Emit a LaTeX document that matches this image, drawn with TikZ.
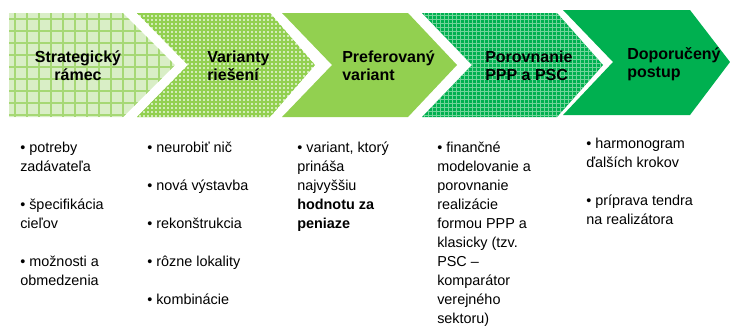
\documentclass[tikz,border=0pt]{standalone}
\usepackage{fontspec}
\setmainfont{Liberation Sans}
\usepackage{xcolor}
\usepackage{tikz}

\definecolor{paleGreen}{HTML}{D9EEC6}
\definecolor{lineGreen}{HTML}{A6D875}
\definecolor{mixGreen}{HTML}{D2ECB8}
\definecolor{limeGreen}{HTML}{92D050}
\definecolor{darkGreen}{HTML}{00B050}
\definecolor{dotGreen}{HTML}{72D49A}

\begin{document}
\begin{tikzpicture}[x=0.75pt,y=-0.75pt,
	head/.style={font=\fontsize{12}{13.5}\selectfont\bfseries, inner sep=0pt, anchor=north west, align=left},
	list/.style={font=\fontsize{10.8}{14.25}\selectfont, inner sep=0pt, anchor=north west, align=left}]
	\useasboundingbox (0,0) rectangle (730,326);
	% step 1 - wide grid
	\begin{scope}
		\clip (9,13) -- (123,13) -- (175,65) -- (123,117) -- (9,117) -- cycle;
		\fill[paleGreen] (0,0) rectangle (180,120);
		\foreach \x in {15,27,...,175}
			\draw[lineGreen, line width=0.9pt] (\x,13) -- (\x,117);
		\foreach \y in {19,31,...,115}
			\draw[lineGreen, line width=0.9pt] (9,\y) -- (175,\y);
	\end{scope}
	% step 2 - fine grid
	\begin{scope}
		\clip (137,13) -- (270,13) -- (315,65) -- (270,117) -- (137,117) -- (188,65) -- cycle;
		\fill[mixGreen] (130,0) rectangle (320,120);
		\foreach \x in {138,142,...,318}
			\draw[limeGreen, line width=1pt] (\x,13) -- (\x,117);
		\foreach \y in {14,18,...,118}
			\draw[limeGreen, line width=1pt] (137,\y) -- (315,\y);
	\end{scope}
	% step 3
	\fill[limeGreen] (282,13) -- (408,13) -- (457,65) -- (408,117) -- (282,117) -- (332,65) -- cycle;
	% step 4 - dotted dark grid
	\begin{scope}
		\clip (422,13) -- (557,13) -- (603,65) -- (557,117) -- (422,117) -- (472,65) -- cycle;
		\fill[darkGreen] (420,0) rectangle (610,120);
		\foreach \x in {424,428,...,604}
			\draw[dotGreen, line width=0.6pt] (\x,13) -- (\x,117);
		\foreach \y in {15,19,...,117}
			\draw[dotGreen, line width=0.6pt] (422,\y) -- (603,\y);
	\end{scope}
	% step 5
	\fill[darkGreen] (563,10) -- (690,10) -- (730,62) -- (690,115) -- (563,115) -- (613,62) -- cycle;

	% headings
	\node[head, anchor=north, align=center] (h1) at (78,50.5) {Strategický\\rámec};
	\node[head] (h2) at (207,50.5) {Varianty\\riešení};
	\node[head] (h3) at (342,50.5) {Preferovaný\\variant};
	\node[head] (h4) at (485,50.5) {Porovnanie\\PPP a PSC};
	\node[head] (h5) at (627,47.5) {Doporučený\\postup};

	% lists
	\node[list] (l1) at (20,141.5) {• potreby\\zadávateľa\\[14.25pt]• špecifikácia\\cieľov\\[14.25pt]• možnosti a\\obmedzenia};
	\node[list] (l2) at (147,141.5) {• neurobiť nič\\[14.25pt]• nová výstavba\\[14.25pt]• rekonštrukcia\\[14.25pt]• rôzne lokality\\[14.25pt]• kombinácie};
	\node[list] (l3) at (297,141.5) {• variant, ktorý\\prináša\\najvyššiu\\\textbf{hodnotu za}\\\textbf{peniaze}};
	\node[list] (l4) at (437,141.5) {• finančné\\modelovanie a\\porovnanie\\realizácie\\formou PPP a\\klasicky (tzv.\\PSC –\\komparátor\\verejného\\sektoru)};
	\node[list] (l5) at (586,137.5) {• harmonogram\\ďalších krokov\\[14.25pt]• príprava tendra\\na realizátora};
\end{tikzpicture}
\end{document}
